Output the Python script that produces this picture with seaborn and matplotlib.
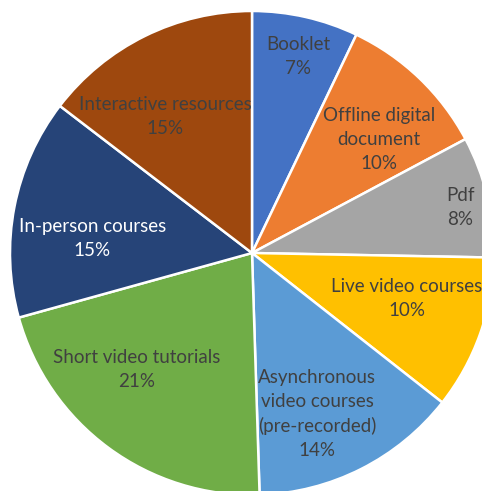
import matplotlib
matplotlib.use("Agg")
import matplotlib.pyplot as plt
import seaborn as sns

# data
categories = ["Booklet", "Offline digital\ndocument", "Pdf", "Live video courses",
              "Asynchronous\nvideo courses\n(pre-recorded)", "Short video tutorials",
              "In-person courses", "Interactive resources"]
shares = [7.1, 10.1, 8.1, 10.3, 13.9, 21.2, 14.7, 14.6]
colors = ["#4472C4", "#ED7D31", "#A5A5A5", "#FFC000",
          "#5B9BD5", "#70AD47", "#264478", "#9E480E"]
text_colors = ["#404040"] * 6 + ["#FFFFFF", "#404040"]

# label anchor points (data coords, pie radius = 1)
label_pos = [(0.19, 0.81), (0.525, 0.47), (0.86, 0.19), (0.64, -0.19),
             (0.27, -0.665), (-0.475, -0.48), (-0.66, 0.06), (-0.36, 0.566)]

sns.set_theme(style="white")
plt.rcParams['font.family'] = ['Lato', 'DejaVu Sans']

fig = plt.figure(figsize=(4.82, 4.91), dpi=100)
W, H = 482, 491
cx, cy, r = 252, 491 - 253, 242
ax = fig.add_axes([(cx - r) / W, (cy - r) / H, 2 * r / W, 2 * r / H])

palette = sns.color_palette(colors)
ax.pie(shares, colors=palette, startangle=90, counterclock=False, radius=1,
       wedgeprops=dict(edgecolor="white", linewidth=1.8))

total = sum(shares)
for lab, val, (x, y), tc in zip(categories, shares, label_pos, text_colors):
    ax.text(x, y, f"{lab}\n{round(100 * val / total)}%", ha="center", va="center",
            color=tc, fontsize=13.5, linespacing=1.5)

ax.set_xlim(-1, 1)
ax.set_ylim(-1, 1)
ax.set_aspect("equal")
ax.axis("off")

fig.savefig("out.png", dpi=100)
